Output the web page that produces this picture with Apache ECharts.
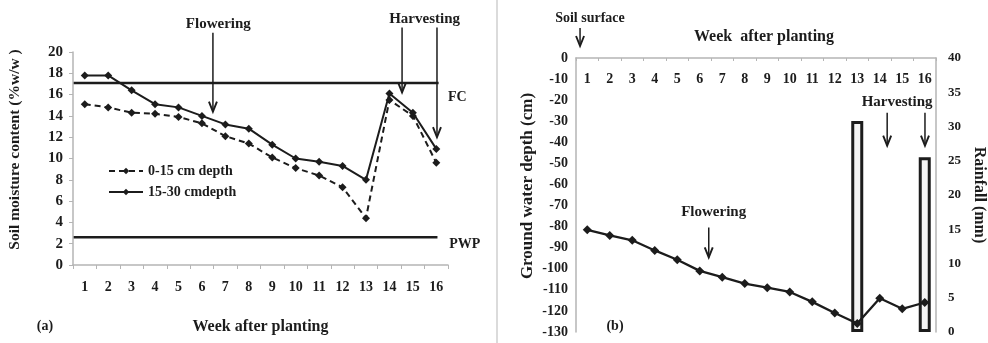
<!DOCTYPE html>
<html><head><meta charset="utf-8">
<script src="https://cdn.jsdelivr.net/npm/echarts@6/dist/echarts.min.js"></script>
<style>html,body{margin:0;padding:0;background:#fff}#c{width:988px;height:343px}</style>
</head><body><div id="c"></div>
<script>
// ---------- data ----------
const weeks = ['1','2','3','4','5','6','7','8','9','10','11','12','13','14','15','16'];
const moisture0to15 = [15.1, 14.8, 14.3, 14.2, 13.9, 13.3, 12.1, 11.4, 10.1, 9.1, 8.4, 7.3, 4.4, 15.5, 14.0, 9.6];
const moisture15to30 = [17.8, 17.8, 16.4, 15.1, 14.8, 14.0, 13.2, 12.8, 11.3, 10.0, 9.7, 9.3, 8.0, 16.1, 14.3, 10.9];
const fieldCapacity = 17.1;
const wiltingPoint = 2.6;
const groundWaterDepth = [-81.5, -84.2, -86.5, -91.3, -95.7, -101, -104, -107, -109, -111, -115.7, -121, -126, -114, -119, -116];
const rainfall = [0, 0, 0, 0, 0, 0, 0, 0, 0, 0, 0, 0, 30.8, 0, 0, 25.5];
const seriesNames = ['0-15 cm depth', '15-30 cmdepth'];

// ---------- style ----------
const FONT = '"Liberation Serif", "Times New Roman", serif';
const ink = '#1c1c1c';
const axisGray = '#b5b5b5';
const txt = (s) => ({fontFamily: FONT, fontWeight: 'bold', fontSize: s, color: ink});

const chart = echarts.init(document.getElementById('c'), null, {renderer: 'canvas'});

const axisLine = {show: true, lineStyle: {color: axisGray, width: 1.5}};
const axisTick = {show: true, length: 4, lineStyle: {color: axisGray, width: 1}};

chart.setOption({
  animation: false,
  backgroundColor: '#fff',
  grid: [
    {left: 73, right: 540, top: 52, bottom: 78},
    {left: 576, right: 51, top: 58, bottom: 11}
  ],
  legend: {
    data: seriesNames,
    orient: 'vertical',
    left: 103, top: 159,
    itemWidth: 34, itemHeight: 8, itemGap: 7,
    textStyle: txt(14)
  },
  xAxis: [
    {gridIndex: 0, type: 'category', data: weeks,
     axisLine, axisTick,
     axisLabel: {...txt(14), margin: 15, interval: 0},
     name: 'Week after planting', nameLocation: 'middle', nameGap: 54, nameTextStyle: txt(16)},
    {gridIndex: 1, type: 'category', data: weeks, position: 'top',
     axisLine, axisTick: {...axisTick, inside: true, length: 3},
     axisLabel: {...txt(14), inside: true, margin: 14, interval: 0},
     name: 'Week  after planting', nameLocation: 'middle', nameGap: 13,
     nameTextStyle: {...txt(16), padding: [0, 0, 0, 16]}}
  ],
  yAxis: [
    {gridIndex: 0, type: 'value', min: 0, max: 20, interval: 2,
     axisLine, axisTick, splitLine: {show: false},
     axisLabel: {...txt(15), margin: 10},
     name: 'Soil moisture content (%w/w )', nameLocation: 'middle', nameGap: 50,
     nameTextStyle: {...txt(15.5), padding: [0, 0, 0, 18]}},
    {gridIndex: 1, type: 'value', min: -130, max: 0, interval: 10,
     axisLine, axisTick: {show: false}, splitLine: {show: false},
     axisLabel: {...txt(14), margin: 8},
     name: 'Ground water depth (cm)', nameLocation: 'middle', nameGap: 40,
     nameTextStyle: {...txt(17), padding: [0, 0, 0, 18]}},
    {gridIndex: 1, type: 'value', position: 'right', min: 0, max: 40, interval: 5,
     axisLine, axisTick: {show: false}, splitLine: {show: false},
     axisLabel: {...txt(13), margin: 12},
     name: 'Rainfall (mm)', nameLocation: 'middle', nameRotate: -90, nameGap: 35, nameTextStyle: txt(16)}
  ],
  series: [
    {name: seriesNames[0], type: 'line', xAxisIndex: 0, yAxisIndex: 0, data: moisture0to15,
     symbol: 'diamond', symbolSize: 8, color: ink,
     lineStyle: {color: ink, width: 2, type: [6, 4]}, itemStyle: {color: ink}, z: 3},
    {name: seriesNames[1], type: 'line', xAxisIndex: 0, yAxisIndex: 0, data: moisture15to30,
     symbol: 'diamond', symbolSize: 8, color: ink,
     lineStyle: {color: ink, width: 2}, itemStyle: {color: ink}, z: 3},
    {name: 'Rainfall', type: 'bar', xAxisIndex: 1, yAxisIndex: 2,
     data: rainfall.map(v => v > 0 ? v : null), barWidth: 12,
     itemStyle: {color: '#f4f4f4', borderColor: ink, borderWidth: 3}, z: 2},
    {name: 'Ground water depth', type: 'line', xAxisIndex: 1, yAxisIndex: 1, data: groundWaterDepth,
     symbol: 'diamond', symbolSize: 9, color: ink,
     lineStyle: {color: ink, width: 2.3}, itemStyle: {color: ink}, z: 4}
  ]
});

// ---------- annotations anchored to the axes ----------
const A = {xAxisIndex: 0, yAxisIndex: 0};
const B = {xAxisIndex: 1, yAxisIndex: 1};
function at(axes, xi, yv) {
  const i0 = Math.floor(xi), f = xi - i0;
  const a = chart.convertToPixel(axes, [i0, yv]);
  const b = chart.convertToPixel(axes, [i0 + 1, yv]);
  return [a[0] + (b[0] - a[0]) * f, a[1]];
}
function arrow(p1, p2, w) {
  return [
    {type: 'line', shape: {x1: p1[0], y1: p1[1], x2: p2[0], y2: p2[1]}, style: {stroke: ink, lineWidth: w}},
    {type: 'polyline', shape: {points: [[p2[0] - 4, p2[1] - 10], [p2[0], p2[1]], [p2[0] + 4, p2[1] - 10]]},
     style: {stroke: ink, lineWidth: w + 0.4, fill: null}}
  ];
}
function label(p, text, size, align) {
  return {type: 'text', x: p[0], y: p[1],
    style: {text, fontFamily: FONT, fontWeight: 'bold', fontSize: size, fill: ink,
            align: align || 'center', verticalAlign: 'middle'}};
}
function hline(p1, p2, w) {
  return {type: 'line', shape: {x1: p1[0], y1: p1[1], x2: p2[0], y2: p2[1]}, style: {stroke: ink, lineWidth: w}};
}

const g = [];
// divider between panels
g.push({type: 'line', shape: {x1: 497, y1: 0, x2: 497, y2: 343}, style: {stroke: '#cfcfcf', lineWidth: 1.5}});
// panel (a)
g.push(hline(at(A, -0.5, fieldCapacity), at(A, 15.1, fieldCapacity), 2.5));
g.push(hline(at(A, -0.5, wiltingPoint), at(A, 15.05, wiltingPoint), 2.5));
g.push(label(at(A, 15.5, 15.7), 'FC', 14, 'left'));
g.push(label(at(A, 15.55, 1.9), 'PWP', 14, 'left'));
g.push(label(at(A, 5.7, 22.6), 'Flowering', 15));
g.push(...arrow(at(A, 5.47, 21.8), at(A, 5.47, 14.4), 1.5));
g.push(label(at(A, 14.5, 23.1), 'Harvesting', 15));
g.push(...arrow(at(A, 13.54, 22.3), at(A, 13.54, 16.2), 1.5));
g.push(...arrow(at(A, 15.03, 22.3), at(A, 15.03, 12.0), 1.5));
g.push(label([45, 326], '(a)', 14));
// panel (b)
g.push(label(at(B, 0.12, 18.9), 'Soil surface', 14));
g.push(...arrow(at(B, -0.32, 14.2), at(B, -0.32, 5.7), 1.5));
g.push(label(at(B, 5.62, -73.3), 'Flowering', 15));
g.push(...arrow(at(B, 5.4, -80.4), at(B, 5.4, -94.6), 1.5));
g.push(label(at(B, 13.77, -20.8), 'Harvesting', 15));
g.push(...arrow(at(B, 13.33, -26), at(B, 13.33, -41.6), 1.5));
g.push(...arrow(at(B, 15.01, -26), at(B, 15.01, -41.6), 1.5));
g.push(label([615, 326], '(b)', 14));

chart.setOption({graphic: {elements: g}});
</script></body></html>
